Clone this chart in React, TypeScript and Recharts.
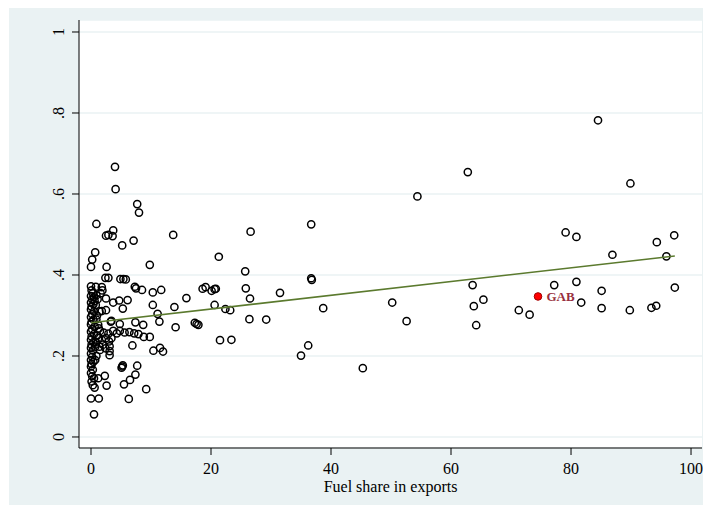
import React from 'react';
import {
  ScatterChart,
  Scatter,
  XAxis,
  YAxis,
  CartesianGrid,
} from 'recharts';

// fuel share in exports (x) vs. outcome (y), one row per country
const clusterPoints = [
  { x: 4.0, y: 0.667 }, { x: 4.1, y: 0.612 }, { x: 7.7, y: 0.575 }, { x: 8.0, y: 0.554 },
  { x: 0.9, y: 0.526 }, { x: 2.5, y: 0.497 }, { x: 2.9, y: 0.499 }, { x: 3.7, y: 0.51 },
  { x: 3.6, y: 0.496 }, { x: 5.2, y: 0.473 }, { x: 7.1, y: 0.485 }, { x: 13.7, y: 0.499 },
  { x: 0.7, y: 0.456 }, { x: 0.2, y: 0.438 }, { x: 0.0, y: 0.42 }, { x: 2.6, y: 0.42 },
  { x: 9.8, y: 0.425 }, { x: 2.4, y: 0.393 }, { x: 2.9, y: 0.393 }, { x: 4.9, y: 0.39 },
  { x: 5.4, y: 0.39 }, { x: 5.8, y: 0.389 }, { x: 0.0, y: 0.372 }, { x: 0.8, y: 0.371 },
  { x: 1.8, y: 0.37 }, { x: 1.9, y: 0.362 }, { x: 1.6, y: 0.355 }, { x: 7.3, y: 0.371 },
  { x: 7.5, y: 0.367 }, { x: 8.5, y: 0.363 }, { x: 10.3, y: 0.357 }, { x: 11.7, y: 0.363 },
  { x: 15.9, y: 0.343 }, { x: 2.5, y: 0.342 }, { x: 3.7, y: 0.332 }, { x: 4.7, y: 0.337 },
  { x: 6.1, y: 0.338 }, { x: 5.3, y: 0.317 }, { x: 10.3, y: 0.326 }, { x: 13.9, y: 0.321 },
  { x: 1.4, y: 0.31 }, { x: 1.8, y: 0.311 }, { x: 2.5, y: 0.313 }, { x: 11.1, y: 0.304 },
  { x: 11.4, y: 0.285 }, { x: 14.1, y: 0.271 }, { x: 3.3, y: 0.285 }, { x: 3.4, y: 0.287 },
  { x: 4.8, y: 0.279 }, { x: 7.4, y: 0.283 }, { x: 8.7, y: 0.277 }, { x: 1.2, y: 0.277 },
  { x: 1.5, y: 0.262 }, { x: 2.1, y: 0.258 }, { x: 2.9, y: 0.255 }, { x: 3.7, y: 0.262 },
  { x: 4.3, y: 0.256 }, { x: 4.8, y: 0.262 }, { x: 5.6, y: 0.258 }, { x: 6.4, y: 0.259 },
  { x: 7.2, y: 0.256 }, { x: 7.9, y: 0.254 }, { x: 1.2, y: 0.244 }, { x: 1.8, y: 0.24 },
  { x: 2.5, y: 0.244 }, { x: 3.0, y: 0.236 }, { x: 3.4, y: 0.244 }, { x: 2.0, y: 0.228 },
  { x: 1.4, y: 0.223 }, { x: 3.1, y: 0.224 }, { x: 8.8, y: 0.247 }, { x: 9.8, y: 0.247 },
  { x: 6.9, y: 0.226 }, { x: 1.5, y: 0.215 }, { x: 2.4, y: 0.219 }, { x: 3.1, y: 0.212 },
  { x: 3.1, y: 0.202 }, { x: 0.7, y: 0.223 }, { x: 10.4, y: 0.213 }, { x: 11.5, y: 0.22 },
  { x: 12.0, y: 0.211 }, { x: 5.1, y: 0.171 }, { x: 5.2, y: 0.174 }, { x: 5.3, y: 0.177 },
  { x: 7.7, y: 0.176 }, { x: 7.4, y: 0.154 }, { x: 6.5, y: 0.141 }, { x: 5.5, y: 0.13 },
  { x: 9.2, y: 0.118 }, { x: 2.3, y: 0.151 }, { x: 2.6, y: 0.127 }, { x: 1.2, y: 0.145 },
  { x: 6.3, y: 0.094 }, { x: 1.3, y: 0.095 }, { x: 0.0, y: 0.095 }, { x: 0.5, y: 0.056 },
];

// countries with (almost) no fuel exports
const zeroFuelPoints = [
  { x: 0.1, y: 0.362 }, { x: 0.3, y: 0.355 }, { x: 0.0, y: 0.348 }, { x: 0.5, y: 0.345 },
  { x: 0.2, y: 0.34 }, { x: 0.6, y: 0.336 }, { x: 0.0, y: 0.332 }, { x: 0.4, y: 0.328 },
  { x: 0.1, y: 0.322 }, { x: 0.0, y: 0.315 }, { x: 0.5, y: 0.31 }, { x: 0.2, y: 0.303 },
  { x: 0.0, y: 0.296 }, { x: 0.4, y: 0.29 }, { x: 0.1, y: 0.284 }, { x: 0.0, y: 0.278 },
  { x: 0.6, y: 0.272 }, { x: 0.2, y: 0.266 }, { x: 0.0, y: 0.26 }, { x: 0.5, y: 0.254 },
  { x: 0.1, y: 0.248 }, { x: 0.0, y: 0.24 }, { x: 0.4, y: 0.234 }, { x: 0.1, y: 0.228 },
  { x: 0.0, y: 0.22 }, { x: 0.3, y: 0.214 }, { x: 0.0, y: 0.206 }, { x: 0.2, y: 0.198 },
  { x: 0.0, y: 0.19 }, { x: 0.4, y: 0.186 }, { x: 0.1, y: 0.18 }, { x: 0.0, y: 0.174 },
  { x: 0.3, y: 0.166 }, { x: 0.0, y: 0.158 }, { x: 0.2, y: 0.15 }, { x: 0.5, y: 0.145 },
  { x: 0.1, y: 0.137 }, { x: 0.3, y: 0.128 }, { x: 0.6, y: 0.122 }, { x: 0.9, y: 0.35 },
  { x: 1.1, y: 0.34 }, { x: 0.8, y: 0.326 }, { x: 1.0, y: 0.3 }, { x: 0.9, y: 0.29 },
  { x: 1.3, y: 0.268 }, { x: 1.0, y: 0.25 }, { x: 0.8, y: 0.235 }, { x: 0.9, y: 0.2 },
  { x: 0.7, y: 0.19 },
];

const midPoints = [
  { x: 36.7, y: 0.525 }, { x: 26.6, y: 0.507 }, { x: 21.3, y: 0.445 }, { x: 25.7, y: 0.409 },
  { x: 36.7, y: 0.392 }, { x: 36.8, y: 0.388 }, { x: 18.6, y: 0.366 }, { x: 19.1, y: 0.37 },
  { x: 20.1, y: 0.361 }, { x: 20.6, y: 0.365 }, { x: 20.8, y: 0.366 }, { x: 25.8, y: 0.367 },
  { x: 26.5, y: 0.342 }, { x: 31.5, y: 0.356 }, { x: 20.6, y: 0.326 }, { x: 22.4, y: 0.316 },
  { x: 23.2, y: 0.313 }, { x: 38.7, y: 0.318 }, { x: 50.2, y: 0.332 }, { x: 17.3, y: 0.282 },
  { x: 17.6, y: 0.279 }, { x: 17.9, y: 0.277 }, { x: 26.4, y: 0.291 }, { x: 29.2, y: 0.29 },
  { x: 52.6, y: 0.286 }, { x: 21.5, y: 0.239 }, { x: 23.4, y: 0.24 }, { x: 36.2, y: 0.226 },
  { x: 35.0, y: 0.201 }, { x: 45.3, y: 0.17 }, { x: 54.4, y: 0.594 },
];

const highFuelPoints = [
  { x: 84.5, y: 0.782 }, { x: 62.8, y: 0.654 }, { x: 89.9, y: 0.626 }, { x: 79.1, y: 0.505 },
  { x: 80.9, y: 0.494 }, { x: 94.3, y: 0.481 }, { x: 97.2, y: 0.498 }, { x: 86.9, y: 0.45 },
  { x: 95.9, y: 0.446 }, { x: 63.6, y: 0.375 }, { x: 77.2, y: 0.375 }, { x: 80.9, y: 0.383 },
  { x: 85.1, y: 0.361 }, { x: 97.3, y: 0.369 }, { x: 63.8, y: 0.323 }, { x: 65.4, y: 0.339 },
  { x: 81.7, y: 0.332 }, { x: 71.3, y: 0.313 }, { x: 73.1, y: 0.302 }, { x: 85.1, y: 0.318 },
  { x: 89.8, y: 0.313 }, { x: 93.4, y: 0.319 }, { x: 94.2, y: 0.324 }, { x: 64.2, y: 0.276 },
];

const highlight = [{ x: 74.5, y: 0.347, name: 'GAB' }];

// linear fit endpoints
const fitLine = [
  { x: 0, y: 0.282 },
  { x: 97.3, y: 0.447 },
];

const xTicks = [0, 20, 40, 60, 80, 100];
const yTicks = [0, 0.2, 0.4, 0.6, 0.8, 1];
const yTickLabels = ['0', '.2', '.4', '.6', '.8', '1'];

const allPoints = [...zeroFuelPoints, ...clusterPoints, ...midPoints, ...highFuelPoints];

const serif = '"Liberation Serif", "Times New Roman", serif';

const HollowDot = (props: any) => (
  <circle cx={props.cx} cy={props.cy} r={3.6} fill="none" stroke="#000" strokeWidth={1.5} />
);

const LabeledDot = (props: any) => (
  <g>
    <circle cx={props.cx} cy={props.cy} r={3.8} fill="#ff0000" stroke="#a00000" strokeWidth={1} />
    <text
      x={props.cx + 8.5}
      y={props.cy + 4.5}
      fill="#983040"
      fontFamily={serif}
      fontWeight="bold"
      fontSize={13}
    >
      {props.payload.name}
    </text>
  </g>
);

const YTick = (props: any) => {
  const { x, y, payload } = props;
  const idx = yTicks.indexOf(payload.value);
  return (
    <text
      transform={`translate(${x - 6},${y}) rotate(-90)`}
      textAnchor="middle"
      fill="#000"
      fontFamily={serif}
      fontSize={16}
    >
      {yTickLabels[idx]}
    </text>
  );
};

export default function App() {
  return (
    <div style={{ marginTop: -7, marginLeft: 1, width: 702, height: 504, background: '#eaf2f3' }}>
      <ScatterChart width={702} height={504} margin={{ top: 19, right: 9, bottom: 0, left: 0 }}>
        <CartesianGrid
          horizontal
          vertical={false}
          fill="#ffffff"
          fillOpacity={1}
          stroke="#eaf2f3"
          strokeWidth={1.5}
        />
        <XAxis
          type="number"
          dataKey="x"
          domain={[-2, 101.83]}
          ticks={xTicks}
          allowDataOverflow
          height={57}
          tickSize={7}
          tickMargin={8}
          stroke="#000"
          tick={{ fill: '#000', fontFamily: serif, fontSize: 16 }}
          label={{
            value: 'Fuel share in exports',
            position: 'insideBottom',
            offset: 13,
            fill: '#000',
            fontFamily: serif,
            fontSize: 16,
          }}
        />
        <YAxis
          type="number"
          dataKey="y"
          domain={[-0.0272, 1.0296]}
          ticks={yTicks}
          allowDataOverflow
          width={70}
          tickSize={7}
          tickMargin={2}
          stroke="#000"
          tick={<YTick />}
        />
        <Scatter data={allPoints} shape={<HollowDot />} isAnimationActive={false} />
        <Scatter
          data={fitLine}
          line={{ stroke: '#5b7a2e', strokeWidth: 1.6 }}
          shape={() => <g />}
          isAnimationActive={false}
        />
        <Scatter data={highlight} shape={<LabeledDot />} isAnimationActive={false} />
      </ScatterChart>
    </div>
  );
}
